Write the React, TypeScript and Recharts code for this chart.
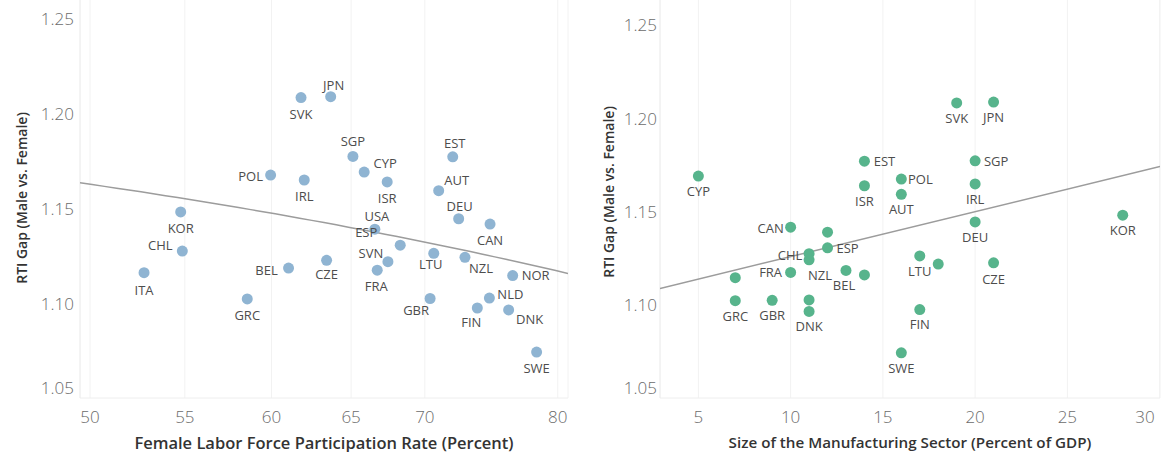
import { CartesianGrid, Scatter, ScatterChart, XAxis, YAxis } from 'recharts';

const countries = ['JPN', 'SVK', 'SGP', 'EST', 'CYP', 'POL', 'IRL', 'ISR', 'AUT', 'KOR', 'DEU', 'CAN', 'USA', 'ESP', 'CHL', 'NZL', 'LTU', 'CZE', 'SVN', 'BEL', 'FRA', 'ITA', 'NOR', 'GRC', 'GBR', 'NLD', 'FIN', 'DNK', 'SWE'];
const rtiGap = [1.2087, 1.2082, 1.1772, 1.177, 1.169, 1.1674, 1.1648, 1.1638, 1.1592, 1.148, 1.1444, 1.1416, 1.1389, 1.1305, 1.1274, 1.1241, 1.1262, 1.1225, 1.1218, 1.1184, 1.1173, 1.116, 1.1145, 1.1022, 1.1024, 1.1026, 1.0974, 1.0964, 1.0742];
const femaleLfp = [63.68, 61.81, 65.12, 71.99, 65.86, 59.95, 62.01, 67.4, 70.98, 54.77, 72.42, 74.74, 66.57, 68.29, 54.86, 72.88, 70.63, 63.42, 67.45, 61.04, 66.73, 52.79, 76.46, 58.56, 70.37, 74.69, 73.79, 76.15, 78.32];
const manufacturing = [21, 19, 20, 14, 5, 16, 20, 14, 16, 28, 20, 10, 12, 12, 11, 11, 17, 21, 18, 13, 10, 14, 7, 7, 9, 11, 17, 11, 16];

const lfpTicks = [50, 55, 60, 65, 70, 80];
const mfgTicks = [5, 10, 15, 20, 25, 30];
const gapTicks = [1.05, 1.1, 1.15, 1.2, 1.25];

// label placement (dx, dy from the dot), as in the original layout
const leftLabelOffset: Record<string, [number, number]> = {
  JPN: [3, -12], SVK: [0, 16], SGP: [0, -15], EST: [2, -14], CYP: [21, -9], POL: [-20, 1], IRL: [0, 16], ISR: [0, 16],
  AUT: [18, -11], DEU: [1, -13], CAN: [0, 16], USA: [2, -13], ESP: [-34, -13], SVN: [-17, -9], FRA: [-1, 16], BEL: [-22, 2],
  CZE: [0, 14], LTU: [-3, 11], NZL: [16, 11], NOR: [23, -1], NLD: [21, -4], GBR: [-14, 11], FIN: [-6, 14], DNK: [21, 9],
  SWE: [0, 16], KOR: [0, 16], CHL: [-22, -6], ITA: [0, 17], GRC: [0, 16],
};
const rightLabelOffset: Record<string, [number, number]> = {
  CYP: [0, 15], EST: [20, 0], ISR: [0, 15], POL: [19, 0], AUT: [0, 15], CAN: [-20, 1], ESP: [20, 0], CHL: [-19, 1],
  NZL: [11, 15], FRA: [-20, 0], BEL: [-2, 15], LTU: [0, 15], GRC: [0, 15], GBR: [0, 15], DNK: [0, 15], FIN: [0, 14],
  SVK: [0, 15], JPN: [0, 15], SGP: [21, 0], IRL: [0, 15], DEU: [0, 15], KOR: [0, 15], CZE: [0, 16], SWE: [0, 15],
};

const FONT = '"Open Sans", sans-serif';
const leftDomain: [number, number] = [49.5, 80.83];
const rightDomain: [number, number] = [2.92, 30.02];

const leftData = countries.map((code, i) => ({ code, x: femaleLfp[i], y: rtiGap[i] }));
const rightData = countries.map((code, i) => ({ code, x: manufacturing[i], y: rtiGap[i] }));

function fit(xs: number[], ys: number[]) {
  const n = xs.length;
  const mx = xs.reduce((s, v) => s + v, 0) / n;
  const my = ys.reduce((s, v) => s + v, 0) / n;
  let sxy = 0;
  let sxx = 0;
  xs.forEach((x, i) => {
    sxy += (x - mx) * (ys[i] - my);
    sxx += (x - mx) * (x - mx);
  });
  const b = sxy / sxx;
  return (x: number) => my + b * (x - mx);
}

const leftFit = fit(femaleLfp, rtiGap);
const rightFit = fit(manufacturing, rtiGap);
// log axis: sample the fitted straight line so it bends like the original
const leftTrend = Array.from({ length: 41 }, (_, i) => {
  const x = Math.exp(Math.log(leftDomain[0]) + (i / 40) * (Math.log(leftDomain[1]) - Math.log(leftDomain[0])));
  return { x, y: leftFit(x) };
});
const rightTrend = rightDomain.map((x) => ({ x, y: rightFit(x) }));

const makeDot = (color: string) => (props: any) => <circle cx={props.cx} cy={props.cy} r={5.5} fill={color}/>;

const makeLabel = (offsets: Record<string, [number, number]>) => (props: any) => {
  const off = offsets[props.payload.code];
  if (!off) return <g/>;
  return (
    <text x={props.cx + off[0]} y={props.cy + off[1]} textAnchor="middle" dominantBaseline="central" fontSize={13} fill="#4d4d4d" fontFamily={FONT}>
      {props.payload.code}
    </text>
  );
};

const YTick = (gap: number) => (props: any) => {
  const { x, y, payload } = props;
  const shift = payload.value === 1.05 ? -11 : 0;
  return (
    <text x={x - gap} y={y + shift} textAnchor="end" dominantBaseline="central" fontSize={17} fill="#6b6b6b" fontFamily={FONT} fontWeight={300}>
      {payload.value.toFixed(2)}
    </text>
  );
};

const XTick = (lastShift: number) => (props: any) => {
  const { x, y, payload } = props;
  const shift = payload.value === 30 ? lastShift : 0;
  return (
    <text x={x + shift} y={y + 18} textAnchor="middle" dominantBaseline="central" fontSize={17} fill="#6b6b6b" fontFamily={FONT} fontWeight={300}>
      {payload.value}
    </text>
  );
};

const yTitle = (cx: number, cy: number) => () => (
  <text x={cx} y={cy} transform={`rotate(-90 ${cx} ${cy})`} textAnchor="middle" dominantBaseline="central" fontSize={14} fill="#333" fontWeight={600} fontFamily={FONT}>
    RTI Gap (Male vs. Female)
  </text>
);

const xTitle = (text: string, size: number) => (props: any) => {
  const vb = props.viewBox;
  return (
    <text x={vb.x + vb.width / 2} y={442} textAnchor="middle" dominantBaseline="central" fontSize={size} fill="#333" fontWeight={600} fontFamily={FONT}>
      {text}
    </text>
  );
};

function Panel({ width, data, trend, domain, ticks, scale, color, offsets, title, titleSize, yTitleX, yTitleY, tickGap, lastShift, right }: any) {
  return (
    <ScatterChart width={width} height={452} margin={{ top: 0, right, bottom: 0, left: 0 }}>
      <CartesianGrid vertical horizontal={false} stroke="#f2f2f2"/>
      <XAxis type="number" dataKey="x" scale={scale} domain={domain} ticks={ticks} allowDataOverflow height={54}
        axisLine={{ stroke: '#eeeeee' }} tickLine={false} tickSize={0} tickMargin={0} tick={XTick(lastShift)}
        label={{ content: xTitle(title, titleSize) }}/>
      <YAxis type="number" dataKey="y" domain={[1.05, data === 'right' ? 1.2634 : 1.2596]} ticks={gapTicks} allowDataOverflow width={80}
        axisLine={{ stroke: '#eeeeee' }} tickLine={false} tickSize={0} tickMargin={0} tick={YTick(tickGap)}
        label={{ content: yTitle(yTitleX, yTitleY) }}/>
      <Scatter data={trend} line={{ stroke: '#9c9c9c', strokeWidth: 1.5 }} shape={() => <g/>} isAnimationActive={false}/>
      <Scatter data={data === 'right' ? rightData : leftData} shape={makeDot(color)} isAnimationActive={false}/>
      <Scatter data={data === 'right' ? rightData : leftData} shape={makeLabel(offsets)} isAnimationActive={false}/>
    </ScatterChart>
  );
}

export default function App() {
  return (
    <div style={{ width: 1163, height: 452, display: 'flex', background: '#fff' }}>
      <style>{'body{margin:0}'}</style>
      <Panel width={580} data="left" trend={leftTrend} domain={leftDomain} ticks={lfpTicks} scale="log" color="#8fb4d2"
        offsets={leftLabelOffset} title="Female Labor Force Participation Rate (Percent)" titleSize={16.5} yTitleX={21} yTitleY={198}
        tickGap={6} lastShift={0} right={12}/>
      <Panel width={583} data="right" trend={rightTrend} domain={rightDomain} ticks={mfgTicks} scale="linear" color="#57b48c"
        offsets={rightLabelOffset} title="Size of the Manufacturing Sector (Percent of GDP)" titleSize={15.2} yTitleX={28} yTitleY={192}
        tickGap={3} lastShift={-10} right={3}/>
    </div>
  );
}
